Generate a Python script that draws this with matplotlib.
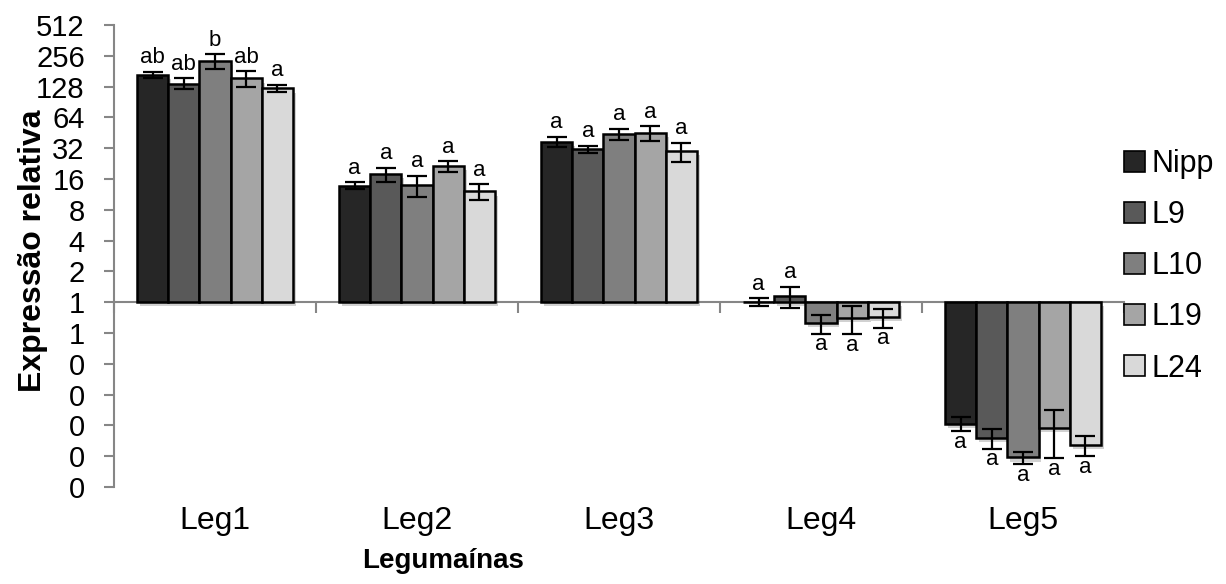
import matplotlib
matplotlib.use("Agg")
import matplotlib.pyplot as plt
import matplotlib.patheffects as pe
from matplotlib.patches import Patch
import numpy as np

# ---- data ----
categories = ["Leg1", "Leg2", "Leg3", "Leg4", "Leg5"]
series_names = ["Nipp", "L9", "L10", "L19", "L24"]

nipp = [168, 13.8, 37.0, 1.01, 0.0647]
l9 = [137, 17.8, 31.1, 1.14, 0.047]
l10 = [227, 14.0, 44.3, 0.624, 0.0304]
l19 = [154, 21.3, 45.3, 0.705, 0.059]
l24 = [123, 12.1, 29.9, 0.715, 0.0405]

nipp_err = [11.5, 1.06, 4.3, 0.085, 0.010]
l9_err = [17, 2.9, 2.6, 0.27, 0.010]
l10_err = [38, 3.3, 5.4, 0.13, 0.0041]
l19_err = [27, 2.5, 7.3, 0.22, 0.029]
l24_err = [10.6, 2.1, 6.3, 0.15, 0.009]

nipp_letters = ["ab", "a", "a", "a", "a"]
l9_letters = ["ab", "a", "a", "a", "a"]
l10_letters = ["b", "a", "a", "a", "a"]
l19_letters = ["ab", "a", "a", "a", "a"]
l24_letters = ["a", "a", "a", "a", "a"]

ytick_values = [2.0 ** k for k in range(-6, 10)]
ytick_labels = ["0", "0", "0", "0", "0", "1", "1", "2", "4", "8",
                "16", "32", "64", "128", "256", "512"]

values = [nipp, l9, l10, l19, l24]
errors = [nipp_err, l9_err, l10_err, l19_err, l24_err]
letters = [nipp_letters, l9_letters, l10_letters, l19_letters, l24_letters]
colors = ["#262626", "#595959", "#7f7f7f", "#a5a5a5", "#d9d9d9"]

plt.rcParams["font.family"] = ["Liberation Sans", "DejaVu Sans"]

W, H = 1226, 584
fig = plt.figure(figsize=(W / 100, H / 100), dpi=100)
ax = fig.add_axes([114 / W, (H - 487) / H, 1010 / W, (487 - 25) / H])

x = np.arange(len(categories))
bw = 0.1545
axis_gray = "#868686"

for i, (vals, errs, labs, col, name) in enumerate(
        zip(values, errors, letters, colors, series_names)):
    xs = x + (i - 2) * bw
    vals = np.array(vals, dtype=float)
    errs = np.array(errs, dtype=float)
    bars = ax.bar(xs, vals - 1.0, bottom=1.0, width=bw, color=col,
                  edgecolor="black", linewidth=1.8, zorder=3, label=name)
    for b in bars:
        b.set_path_effects([pe.SimplePatchShadow(offset=(2, -3), shadow_rgbFace="black",
                                                 alpha=0.18), pe.Normal()])
    ax.errorbar(xs, vals, yerr=errs, fmt="none", ecolor="black",
                elinewidth=1.6, capsize=7, capthick=1.6, zorder=4)
    for xi, v, e, t in zip(xs, vals, errs, labs):
        if v >= 1:
            ax.annotate(t, (xi, v + e), xytext=(0, 2.5), textcoords="offset points",
                        ha="center", va="bottom", fontsize=16, zorder=5)
        else:
            ax.annotate(t, (xi, v - e), xytext=(0, -0.5), textcoords="offset points",
                        ha="center", va="top", fontsize=16, zorder=5)

ax.set_yscale("log", base=2)
ax.set_ylim(2.0 ** -6, 2.0 ** 9)
ax.set_xlim(-0.5, len(categories) - 0.5)
ax.set_yticks(ytick_values)
ax.set_yticklabels(ytick_labels)
ax.yaxis.set_minor_locator(matplotlib.ticker.NullLocator())
ax.tick_params(axis="y", direction="out", length=7, width=1.5, color=axis_gray,
               labelsize=21, pad=14)

# category labels at the bottom of the plot area
ax.set_xticks(x)
ax.set_xticklabels(categories)
ax.tick_params(axis="x", length=0, labelsize=23, pad=14)

for s in ["top", "right", "bottom"]:
    ax.spines[s].set_visible(False)
ax.spines["left"].set_color(axis_gray)
ax.spines["left"].set_linewidth(1.5)

# horizontal axis crossing at 1, with category boundary ticks
cross = 6 / 15
sec = ax.secondary_xaxis(cross)
sec.set_xticks(np.arange(len(categories) + 1) - 0.5)
sec.tick_params(axis="x", direction="out", length=8, width=1.5, color=axis_gray,
                labelbottom=False, labeltop=False, bottom=True, top=False)
sec.xaxis.set_ticks_position("bottom")
sec.set_xticklabels([])
for s in sec.spines.values():
    s.set_visible(False)
sec.spines["bottom"].set_visible(True)
sec.spines["bottom"].set_color(axis_gray)
sec.spines["bottom"].set_linewidth(1.5)

fig.text(33 / W, 1 - 251 / H, "Expressão relativa", rotation=90, fontsize=23,
         fontweight="bold", ha="center", va="center")
fig.text(443 / W, 1 - 561 / H, "Legumaínas", fontsize=20, fontweight="bold",
         ha="center", va="center")

handles = [Patch(facecolor=c, edgecolor="black", linewidth=1.2) for c in colors]
fig.legend(handles, series_names, loc="upper left",
           bbox_to_anchor=(1112 / W, 1 - 137 / H), frameon=False, fontsize=22,
           handlelength=0.68, handleheight=0.68, handletextpad=0.2,
           labelspacing=0.69, borderaxespad=0)

fig.savefig("out.png", dpi=100)
